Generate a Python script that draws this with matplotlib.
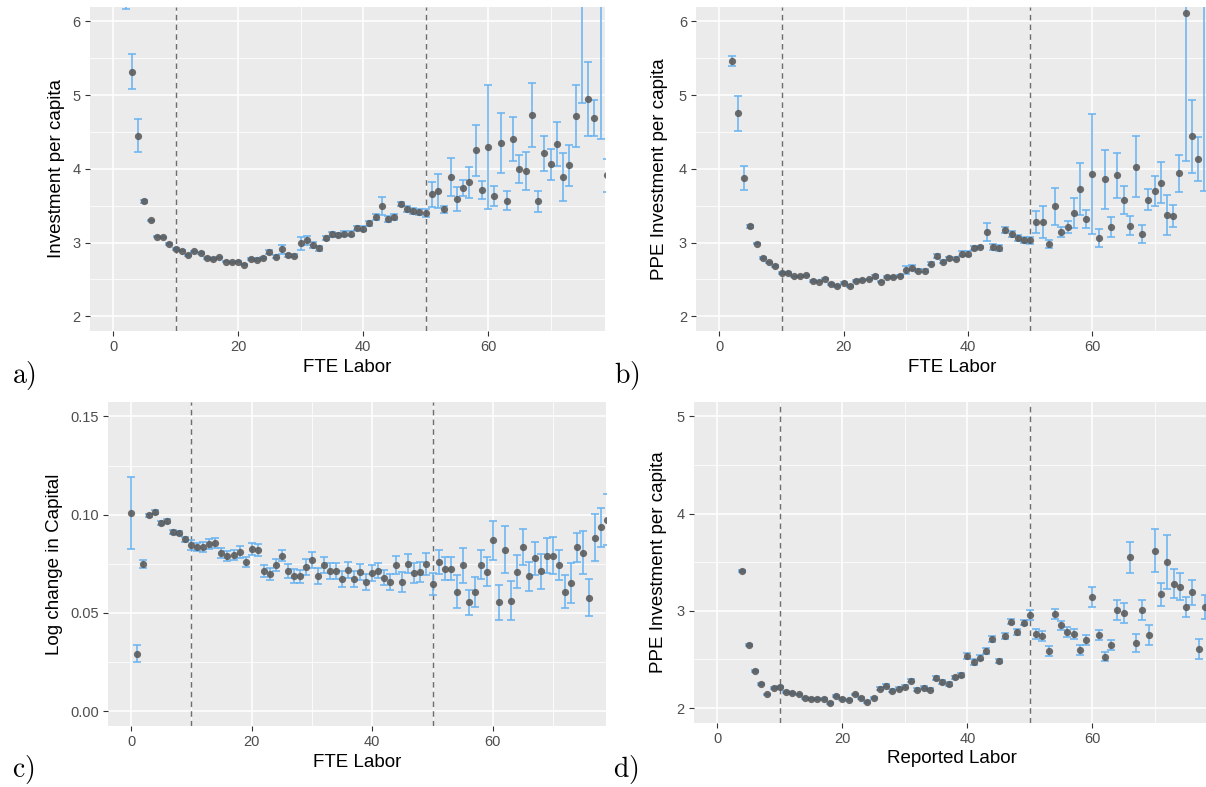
import numpy as np
import matplotlib.pyplot as plt

plt.rcParams['font.family'] = ['Liberation Sans', 'DejaVu Sans']
plt.rcParams['mathtext.fontset'] = 'cm'

# a) investment per capita by FTE labor
a_x = list(range(2, 80))
a_y = [6.55, 5.32, 4.45, 3.56, 3.30, 3.08, 3.07, 2.98, 2.91, 2.89,
       2.83, 2.88, 2.86, 2.79, 2.78, 2.80, 2.74, 2.73, 2.74, 2.70,
       2.78, 2.77, 2.79, 2.875, 2.81, 2.91, 2.83, 2.82, 2.99, 3.03,
       2.97, 2.92, 3.06, 3.11, 3.10, 3.12, 3.12, 3.20, 3.19, 3.26,
       3.35, 3.50, 3.315, 3.35, 3.52, 3.46, 3.43, 3.42, 3.40, 3.655,
       3.70, 3.45, 3.89, 3.59, 3.74, 3.82, 4.25, 3.71, 4.30, 3.63,
       4.35, 3.57, 4.41, 4.00, 3.97, 4.73, 3.56, 4.21, 4.06, 4.34,
       3.89, 4.05, 4.72, 6.60, 4.95, 4.69, 6.50, 3.91]
a_se = [0.38, 0.24, 0.22, 0.02, 0.01, 0.01, 0.01, 0.01, 0.01, 0.01,
        0.01, 0.01, 0.01, 0.01, 0.01, 0.01, 0.01, 0.01, 0.01, 0.01,
        0.015, 0.015, 0.015, 0.03, 0.02, 0.06, 0.02, 0.02, 0.09, 0.06,
        0.04, 0.03, 0.03, 0.03, 0.03, 0.03, 0.03, 0.03, 0.03, 0.03,
        0.04, 0.12, 0.04, 0.04, 0.03, 0.04, 0.04, 0.04, 0.05, 0.17,
        0.23, 0.05, 0.26, 0.16, 0.11, 0.21, 0.35, 0.12, 0.84, 0.14,
        0.41, 0.13, 0.30, 0.19, 0.26, 0.44, 0.14, 0.24, 0.21, 0.30,
        0.33, 0.28, 0.42, 1.71, 0.50, 0.25, 2.10, 0.22]

# b) PPE investment per capita by FTE labor
b_x = list(range(2, 79))
b_y = [5.46, 4.755, 3.88, 3.22, 2.985, 2.79, 2.73, 2.68, 2.59, 2.59,
       2.54, 2.54, 2.555, 2.48, 2.47, 2.51, 2.44, 2.41, 2.45, 2.41,
       2.48, 2.49, 2.50, 2.54, 2.47, 2.53, 2.53, 2.55, 2.63, 2.66,
       2.62, 2.62, 2.71, 2.82, 2.74, 2.79, 2.78, 2.85, 2.85, 2.93,
       2.94, 3.14, 2.94, 2.93, 3.17, 3.12, 3.065, 3.03, 3.03, 3.28,
       3.28, 2.98, 3.49, 3.14, 3.21, 3.40, 3.73, 3.315, 3.93, 3.06,
       3.86, 3.21, 3.91, 3.58, 3.23, 4.03, 3.12, 3.58, 3.70, 3.81,
       3.37, 3.36, 3.94, 6.11, 4.44, 4.13, 6.50]
b_se = [0.07, 0.235, 0.165, 0.02, 0.01, 0.01, 0.01, 0.01, 0.01, 0.01,
        0.01, 0.01, 0.01, 0.01, 0.01, 0.01, 0.01, 0.01, 0.01, 0.01,
        0.01, 0.01, 0.01, 0.015, 0.01, 0.015, 0.015, 0.015, 0.05, 0.03,
        0.02, 0.02, 0.02, 0.03, 0.02, 0.02, 0.02, 0.03, 0.03, 0.03,
        0.02, 0.12, 0.04, 0.04, 0.04, 0.04, 0.04, 0.04, 0.05, 0.15,
        0.22, 0.05, 0.25, 0.07, 0.08, 0.20, 0.35, 0.12, 0.81, 0.12,
        0.40, 0.13, 0.30, 0.19, 0.13, 0.41, 0.12, 0.14, 0.20, 0.28,
        0.27, 0.15, 0.25, 2.00, 0.50, 0.30, 2.80]

# c) log change in capital by FTE labor
c_x = list(range(0, 80))
c_y = [0.1009, 0.0292, 0.0749, 0.0996, 0.1016, 0.0957, 0.0968, 0.0911, 0.0909, 0.0875,
       0.0845, 0.0837, 0.0834, 0.0853, 0.0858, 0.0804, 0.0788, 0.0797, 0.0809, 0.0761,
       0.0824, 0.0822, 0.0712, 0.0698, 0.0746, 0.0792, 0.0714, 0.0688, 0.0686, 0.0735,
       0.0768, 0.0689, 0.0743, 0.0714, 0.0712, 0.0674, 0.0717, 0.0673, 0.0707, 0.0658,
       0.0705, 0.0716, 0.0680, 0.0658, 0.0743, 0.0659, 0.0751, 0.0702, 0.0709, 0.0749,
       0.0646, 0.0758, 0.0726, 0.0726, 0.0608, 0.0743, 0.0554, 0.0606, 0.0746, 0.0710,
       0.0870, 0.0554, 0.0821, 0.0562, 0.0710, 0.0836, 0.0686, 0.0778, 0.0712, 0.0792,
       0.0792, 0.0745, 0.0608, 0.0652, 0.0834, 0.0806, 0.0578, 0.0883, 0.0936, 0.0974]
c_se = [0.0183, 0.0043, 0.0020, 0.0010, 0.0010, 0.0010, 0.0010, 0.0010, 0.0010, 0.0012,
        0.0025, 0.0020, 0.0025, 0.0025, 0.0025, 0.0025, 0.0025, 0.0025, 0.0030, 0.0025,
        0.0030, 0.0030, 0.0030, 0.0030, 0.0030, 0.0030, 0.0035, 0.0035, 0.0035, 0.0040,
        0.0040, 0.0040, 0.0040, 0.0040, 0.0040, 0.0040, 0.0040, 0.0040, 0.0040, 0.0040,
        0.0040, 0.0040, 0.0040, 0.0040, 0.0045, 0.0050, 0.0050, 0.0050, 0.0050, 0.0055,
        0.0055, 0.0060, 0.0060, 0.0060, 0.0085, 0.0090, 0.0065, 0.0075, 0.0075, 0.0075,
        0.0100, 0.0090, 0.0120, 0.0100, 0.0085, 0.0090, 0.0075, 0.0085, 0.0090, 0.0090,
        0.0095, 0.0075, 0.0085, 0.0100, 0.0075, 0.0110, 0.0095, 0.0120, 0.0100, 0.0130]

# d) PPE investment per capita by reported labor
d_x = list(range(4, 79))
d_y = [3.41, 2.65, 2.38, 2.25, 2.14, 2.21, 2.22, 2.165, 2.16, 2.14,
       2.10, 2.09, 2.09, 2.09, 2.05, 2.12, 2.09, 2.08, 2.14, 2.10,
       2.06, 2.10, 2.20, 2.23, 2.18, 2.20, 2.22, 2.28, 2.19, 2.21,
       2.19, 2.31, 2.27, 2.25, 2.315, 2.34, 2.54, 2.47, 2.52, 2.59,
       2.71, 2.48, 2.74, 2.89, 2.78, 2.88, 2.96, 2.76, 2.74, 2.59,
       2.97, 2.85, 2.78, 2.76, 2.60, 2.70, 3.14, 2.75, 2.53, 2.65,
       3.01, 2.98, 3.55, 2.67, 3.01, 2.75, 3.62, 3.17, 3.50, 3.28,
       3.25, 3.04, 3.19, 2.61, 3.04]
d_se = [0.01, 0.01, 0.01, 0.01, 0.01, 0.01, 0.01, 0.01, 0.01, 0.01,
        0.01, 0.01, 0.01, 0.01, 0.01, 0.01, 0.01, 0.01, 0.01, 0.01,
        0.01, 0.01, 0.015, 0.015, 0.015, 0.015, 0.015, 0.015, 0.015, 0.015,
        0.015, 0.02, 0.02, 0.02, 0.02, 0.02, 0.03, 0.03, 0.03, 0.03,
        0.03, 0.02, 0.03, 0.03, 0.03, 0.03, 0.05, 0.05, 0.05, 0.05,
        0.05, 0.05, 0.05, 0.05, 0.05, 0.05, 0.10, 0.05, 0.05, 0.05,
        0.10, 0.10, 0.16, 0.09, 0.10, 0.10, 0.22, 0.12, 0.28, 0.15,
        0.14, 0.10, 0.13, 0.10, 0.12]

W, H = 1206, 787
fig = plt.figure(figsize=(W / 100, H / 100), dpi=100)


def box(l, r, t, b):
    return [l / W, 1 - b / H, (r - l) / W, (b - t) / H]


def draw(rect, x, y, se, ylim, yticks, yminor, ylabel, xlabel, fmt, ylab_x, xlab_y):
    ax = fig.add_axes(rect)
    ax.set_facecolor('#EBEBEB')
    for s in ax.spines.values():
        s.set_visible(False)
    ax.errorbar(x, y, yerr=se, fmt='none', ecolor='#66B2F2', elinewidth=1.1,
                capsize=3.2, capthick=1.1, zorder=3)
    ax.scatter(x, y, s=27, color='#595959', alpha=0.88, linewidths=0, zorder=4)
    for v in (10, 50):
        ax.axvline(v, color='#6E6E6E', lw=1.0, ls=(0, (4, 3)), zorder=2)
    ax.set_xlim(-3.75, 78.75)
    ax.set_ylim(*ylim)
    ax.set_xticks([0, 20, 40, 60])
    ax.set_xticks([10, 30, 50, 70], minor=True)
    ax.set_yticks(yticks)
    ax.set_yticks(yminor, minor=True)
    ax.set_yticklabels([fmt.format(t) for t in yticks])
    ax.set_axisbelow(True)
    ax.grid(which='major', color='white', lw=1.1)
    ax.grid(which='minor', color='white', lw=0.55)
    ax.tick_params(which='major', length=3.5, width=0.8, color='#333333',
                   labelsize=10.5, labelcolor='#4D4D4D', pad=3)
    ax.tick_params(which='minor', length=0)
    ax.set_ylabel(ylabel, fontsize=13.5)
    ax.set_xlabel(xlabel, fontsize=13.5)
    ax.yaxis.set_label_coords(ylab_x, 0.5)
    ax.xaxis.set_label_coords(0.5, xlab_y)
    return ax


draw(box(89.6, 605.2, 6.7, 331), a_x, a_y, a_se, (1.8, 6.2), [2, 3, 4, 5, 6],
     [2.5, 3.5, 4.5, 5.5], 'Investment per capita', 'FTE Labor', '{:g}', -0.048, -0.085)
draw(box(696, 1209, 6.7, 331), b_x, b_y, b_se, (1.8, 6.2), [2, 3, 4, 5, 6],
     [2.5, 3.5, 4.5, 5.5], 'PPE Investment per capita', 'FTE Labor', '{:g}', -0.055, -0.085)
draw(box(108.4, 605.9, 401.7, 726), c_x, c_y, c_se, (-0.0075, 0.1575),
     [0.0, 0.05, 0.10, 0.15], [0.025, 0.075, 0.125], 'Log change in Capital',
     'FTE Labor', '{:.2f}', -0.091, -0.085)
draw(box(693.9, 1209.5, 401.7, 722.7), d_x, d_y, d_se, (1.85, 5.15), [2, 3, 4, 5],
     [2.5, 3.5, 4.5], 'PPE Investment per capita', 'Reported Labor', '{:g}', -0.052, -0.085)

for lab, px, py in [('a)', 12, 376), ('b)', 614, 376), ('c)', 12, 770), ('d)', 613, 770)]:
    fig.text(px / W, 1 - py / H, r'$\mathrm{' + lab + '}$', fontsize=20,
             ha='left', va='center')

fig.savefig('out.png', dpi=100)
